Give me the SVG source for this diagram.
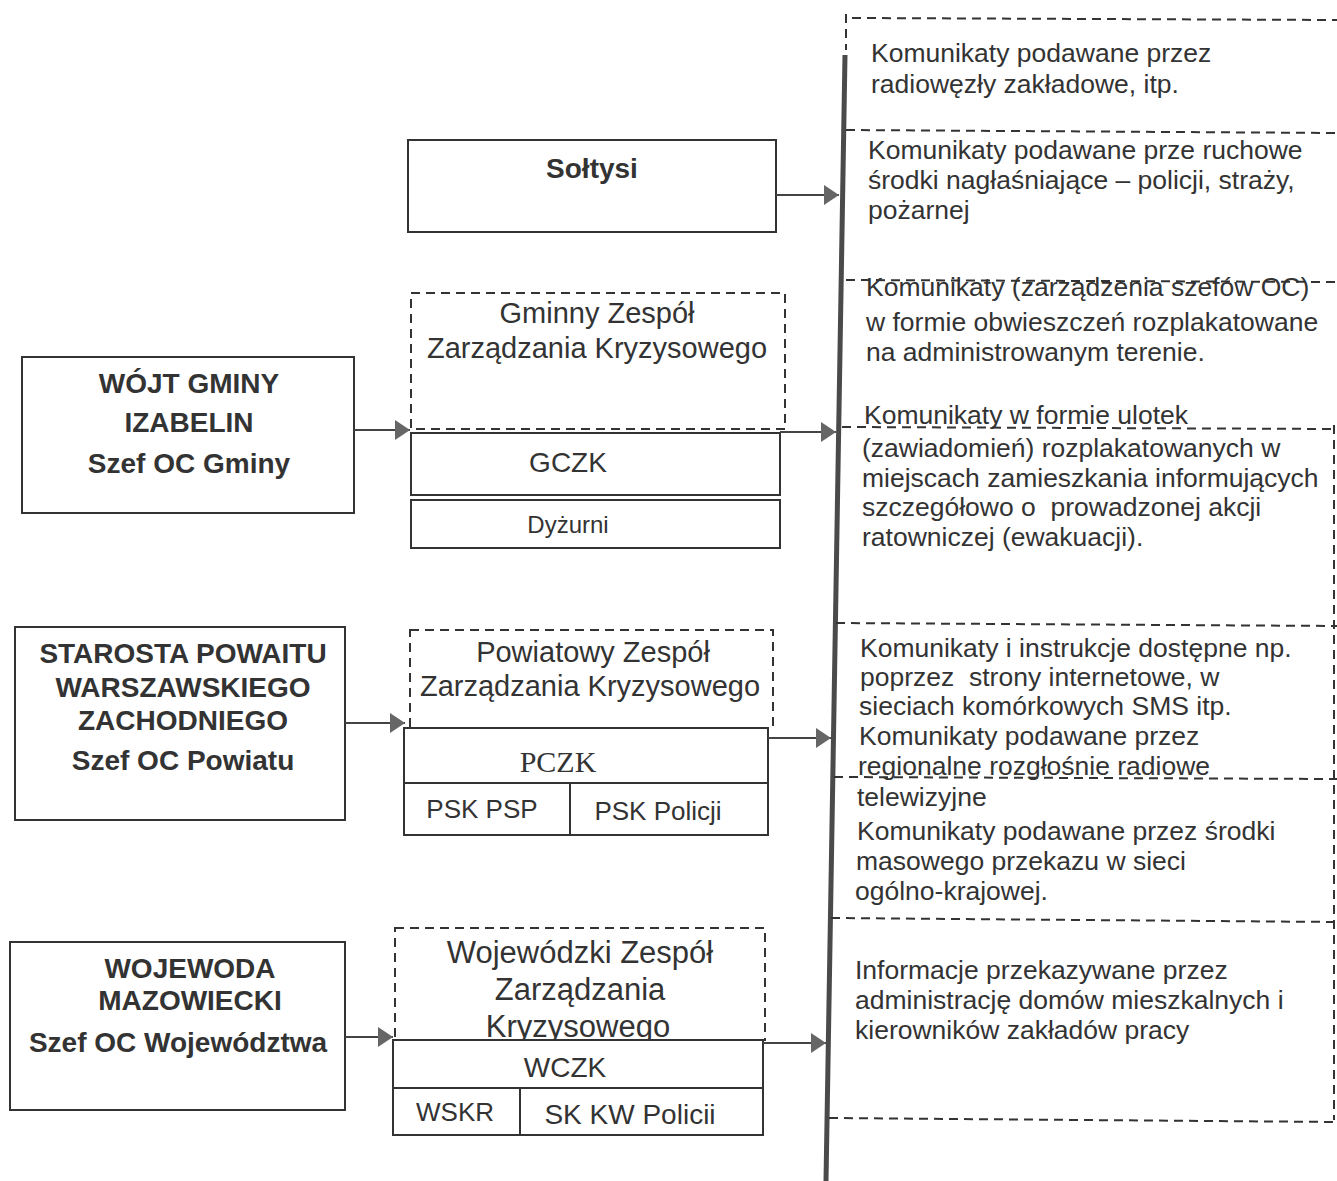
<svg xmlns="http://www.w3.org/2000/svg" width="1337" height="1181" viewBox="0 0 1337 1181">
<style>
.box{fill:#fff;stroke:#333;stroke-width:2}
.dbox{fill:none;stroke:#333;stroke-width:2;stroke-dasharray:9,6}
.dl{fill:none;stroke:#333;stroke-width:2;stroke-dasharray:9,6}
.conn{stroke:#444;stroke-width:2;fill:none}
.b{font-family:"Liberation Sans",Arial,sans-serif;font-weight:bold;font-size:28px;fill:#333;text-anchor:middle}
.r{font-family:"Liberation Sans",Arial,sans-serif;font-size:28px;fill:#333;text-anchor:middle}
.z{font-family:"Liberation Sans",Arial,sans-serif;font-size:29px;fill:#333;text-anchor:middle}
.t{font-family:"Liberation Sans",Arial,sans-serif;font-size:26.5px;fill:#333;white-space:pre}
.s{font-family:"Liberation Serif","Times New Roman",serif;font-size:30px;fill:#333;text-anchor:middle}
</style>
<defs>
<marker id="ah" markerUnits="userSpaceOnUse" markerWidth="16" markerHeight="22" refX="15" refY="10" orient="auto">
<path d="M0,0 L15,10 L0,20 z" fill="#666"/>
</marker>
</defs>
<rect width="1337" height="1181" fill="#fff"/>

<g id="panel">
<line x1="846" y1="14" x2="846" y2="50" class="dl"/>
<line x1="845" y1="55" x2="826" y2="1181" stroke="#4a4a4a" stroke-width="5"/>
<line x1="852" y1="18" x2="1337" y2="20" class="dl"/>
<line x1="846" y1="130" x2="1337" y2="133" class="dl"/>
<line x1="846" y1="280" x2="1337" y2="282" class="dl"/>
<line x1="842" y1="427" x2="1337" y2="429" class="dl"/>
<line x1="836" y1="623" x2="1337" y2="626" class="dl"/>
<line x1="834" y1="777" x2="1337" y2="779" class="dl"/>
<line x1="831" y1="918" x2="1337" y2="922" class="dl"/>
<line x1="829" y1="1118" x2="1337" y2="1122" class="dl"/>
<line x1="1334" y1="425" x2="1334" y2="1120" class="dl"/>
</g>

<g id="info1">
<text class="t" x="871" y="62">Komunikaty podawane przez</text>
<text class="t" x="871" y="93">radiowęzły zakładowe, itp.</text>
</g>
<g id="info2">
<text class="t" x="868" y="159">Komunikaty podawane prze ruchowe</text>
<text class="t" x="868" y="189">środki nagłaśniające – policji, straży,</text>
<text class="t" x="868" y="219">pożarnej</text>
</g>
<g id="info3">
<text class="t" x="866" y="296">Komunikaty (zarządzenia szefów OC)</text>
<text class="t" x="866" y="331">w formie obwieszczeń rozplakatowane</text>
<text class="t" x="866" y="361">na administrowanym terenie.</text>
</g>
<g id="info4">
<text class="t" x="864" y="424">Komunikaty w formie ulotek</text>
<text class="t" x="862" y="457">(zawiadomień) rozplakatowanych w</text>
<text class="t" x="862" y="487">miejscach zamieszkania informujących</text>
<text class="t" x="862" y="516">szczegółowo o  prowadzonej akcji</text>
<text class="t" x="862" y="546">ratowniczej (ewakuacji).</text>
</g>
<g id="info5">
<text class="t" x="860" y="657">Komunikaty i instrukcje dostępne np.</text>
<text class="t" x="860" y="686">poprzez  strony internetowe, w</text>
<text class="t" x="859" y="715">sieciach komórkowych SMS itp.</text>
<text class="t" x="859" y="745">Komunikaty podawane przez</text>
<text class="t" x="858" y="775">regionalne rozgłośnie radiowe</text>
<text class="t" x="857" y="806">telewizyjne</text>
<text class="t" x="857" y="840">Komunikaty podawane przez środki</text>
<text class="t" x="856" y="870">masowego przekazu w sieci</text>
<text class="t" x="855" y="900">ogólno-krajowej.</text>
</g>
<g id="info6">
<text class="t" x="855" y="979">Informacje przekazywane przez</text>
<text class="t" x="855" y="1009">administrację domów mieszkalnych i</text>
<text class="t" x="855" y="1039">kierowników zakładów pracy</text>
</g>

<g id="soltysi">
<rect class="box" x="408" y="140" width="368" height="92"/>
<text class="b" x="592" y="178">Sołtysi</text>
</g>

<g id="wojt">
<rect class="box" x="22" y="357" width="332" height="156"/>
<text class="b" x="189" y="393">WÓJT GMINY</text>
<text class="b" x="189" y="432">IZABELIN</text>
<text class="b" x="189" y="473">Szef OC Gminy</text>
</g>
<g id="gzzk">
<rect class="dbox" x="411" y="293" width="374" height="136"/>
<text class="z" x="597" y="323">Gminny Zespół</text>
<text class="z" x="597" y="358">Zarządzania Kryzysowego</text>
</g>
<g id="gczk">
<rect class="box" x="411" y="433" width="369" height="62"/>
<text class="r" x="568" y="472">GCZK</text>
</g>
<g id="dyzurni">
<rect class="box" x="411" y="500" width="369" height="48"/>
<text class="r" x="568" y="533" style="font-size:24px">Dyżurni</text>
</g>

<g id="starosta">
<rect class="box" x="15" y="627" width="330" height="193"/>
<text class="b" x="183" y="663">STAROSTA POWAITU</text>
<text class="b" x="183" y="697">WARSZAWSKIEGO</text>
<text class="b" x="183" y="730">ZACHODNIEGO</text>
<text class="b" x="183" y="770">Szef OC Powiatu</text>
</g>
<g id="pzzk">
<rect class="dbox" x="410" y="630" width="363" height="98"/>
<text class="z" x="593" y="662">Powiatowy Zespół</text>
<text class="z" x="590" y="696">Zarządzania Kryzysowego</text>
</g>
<g id="pczk">
<rect class="box" x="404" y="728" width="364" height="55"/>
<text class="s" x="558" y="772">PCZK</text>
</g>
<g id="psk">
<rect class="box" x="404" y="783" width="364" height="52"/>
<line x1="570" y1="783" x2="570" y2="835" stroke="#333" stroke-width="2"/>
<text class="r" x="482" y="818" style="font-size:26px">PSK PSP</text>
<text class="r" x="658" y="820" style="font-size:26px">PSK Policji</text>
</g>

<g id="wojewoda">
<rect class="box" x="10" y="942" width="335" height="168"/>
<text class="b" x="190" y="978">WOJEWODA</text>
<text class="b" x="190" y="1010">MAZOWIECKI</text>
<text class="b" x="178" y="1052">Szef OC Województwa</text>
</g>
<g id="wzzk">
<rect class="dbox" x="395" y="928" width="370" height="112"/>
<text class="z" x="580" y="963" style="font-size:31px">Wojewódzki Zespół</text>
<text class="z" x="580" y="1000" style="font-size:31px">Zarządzania</text>
<text class="z" x="578" y="1037" style="font-size:31px">Kryzysowego</text>
</g>
<g id="wczk">
<rect class="box" x="393" y="1040" width="370" height="48"/>
<text class="r" x="565" y="1077">WCZK</text>
</g>
<g id="wskr">
<rect class="box" x="393" y="1088" width="370" height="47"/>
<line x1="520" y1="1088" x2="520" y2="1135" stroke="#333" stroke-width="2"/>
<text class="r" x="455" y="1121" style="font-size:26px">WSKR</text>
<text class="r" x="630" y="1124">SK KW Policii</text>
</g>

<g id="connectors">
<line class="conn" x1="776" y1="195" x2="839" y2="195" marker-end="url(#ah)"/>
<line class="conn" x1="354" y1="430" x2="410" y2="430" marker-end="url(#ah)"/>
<line class="conn" x1="780" y1="432" x2="836" y2="432" marker-end="url(#ah)"/>
<line class="conn" x1="345" y1="723" x2="405" y2="723" marker-end="url(#ah)"/>
<line class="conn" x1="768" y1="738" x2="831" y2="738" marker-end="url(#ah)"/>
<line class="conn" x1="345" y1="1037" x2="393" y2="1037" marker-end="url(#ah)"/>
<line class="conn" x1="763" y1="1043" x2="826" y2="1043" marker-end="url(#ah)"/>
</g>
</svg>
